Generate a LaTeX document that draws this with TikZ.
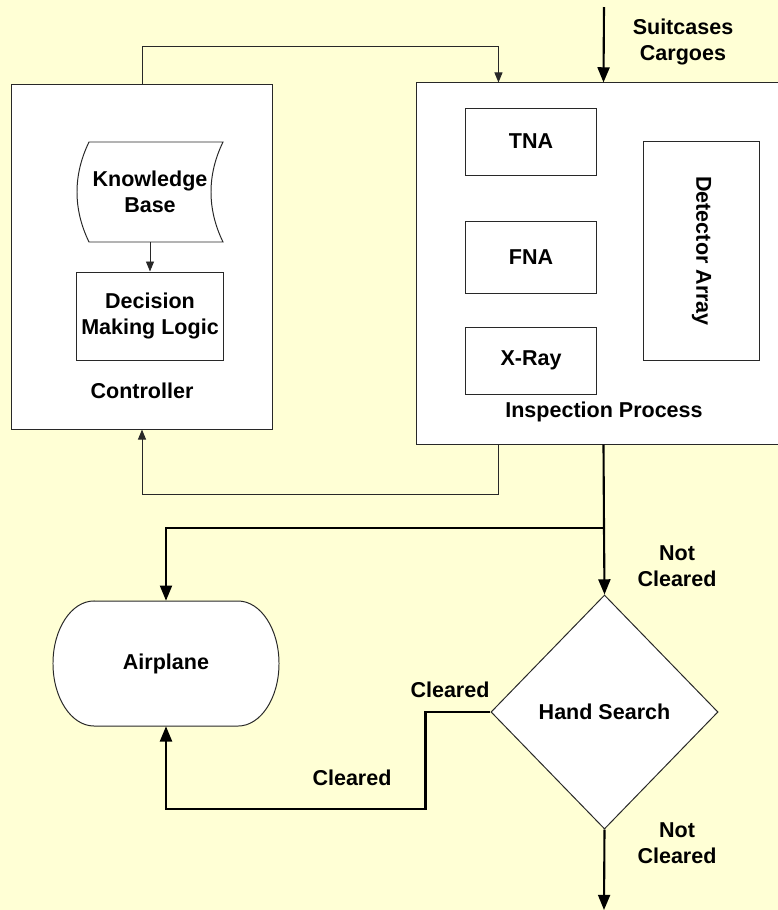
\documentclass[tikz,border=0pt]{standalone}
\usepackage{fontspec}
\setmainfont{Liberation Sans}
\usetikzlibrary{shapes.geometric, arrows.meta}
\definecolor{paper}{RGB}{255,255,213}
\definecolor{edge}{RGB}{40,40,40}
\tikzstyle{block} = [rectangle, draw=edge, line width=0.7pt, fill=white, inner sep=0pt, align=center]
\tikzstyle{decision} = [diamond, draw=edge, line width=0.7pt, fill=white, inner sep=0pt, minimum width=5.675cm, minimum height=5.85cm]
\tikzstyle{note} = [align=center, inner sep=0pt]
\tikzstyle{thinarrow} = [draw=edge, line width=0.7pt, -{Triangle[length=0.25cm, width=0.2cm]}]
\tikzstyle{thickline} = [line width=1.5pt]
\tikzstyle{thickarrow} = [line width=1.5pt, -{Triangle[length=0.38cm, width=0.3cm]}]

\begin{document}
\begin{tikzpicture}[x=0.025cm, y=-0.025cm, font=\fontsize{15.3}{18.5}\selectfont\bfseries]
    \clip (0,0) rectangle (778,910);
    \fill[paper] (0,0) rectangle (778,910);

    \node (ctrl) [block, minimum width=6.5cm, minimum height=8.6cm] at (142,257) {};
    \filldraw[fill=white, draw=edge, line width=0.7pt] (89,142) -- (223,142) .. controls (207,175) and (207,209) .. (223,242) -- (89,242) .. controls (73,209) and (73,175) .. (89,142) -- cycle;
    \node (kb) [note, minimum width=3.65cm, minimum height=2.5cm] at (150,192) {Knowledge\\Base};
    \node (dml) [block, minimum width=3.65cm, minimum height=2.2cm] at (150,316) {Decision\\Making Logic};
    \node (ctrltext) [note] at (142,391) {Controller};

    \node (insp) [block, minimum width=9.325cm, minimum height=9.025cm] at (603.5,263.5) {};
    \node (tna) [block, minimum width=3.25cm, minimum height=1.675cm] at (531,141.5) {TNA};
    \node (fna) [block, minimum width=3.25cm, minimum height=1.8cm] at (531,257) {FNA};
    \node (xray) [block, minimum width=3.25cm, minimum height=1.675cm] at (531,360.5) {X-Ray};
    \node (det) [block, rotate=-90, minimum width=5.45cm, minimum height=2.875cm] at (701.5,251) {Detector Array};
    \node (insptext) [note] at (604,412) {Inspection Process};

    \coordinate (in) at (604,7);
    \node (load) [note] at (683,42) {Suitcases\\Cargoes};

    \coordinate (split) at (604,528);
    \filldraw[fill=white, draw=edge, line width=0.7pt] (94,601) -- (238,601) arc[start angle=90, end angle=-90, x radius=1.025cm, y radius=1.5625cm] -- (94,726) arc[start angle=270, end angle=90, x radius=1.025cm, y radius=1.5625cm] -- cycle;
    \node (plane) [note, minimum width=5.65cm, minimum height=3.125cm] at (166,663.5) {Airplane};
    \node (hand) [decision] at (604.5,712) {Hand Search};
    \coordinate (out) at (604,910);

    \node (nc1) [note] at (677,566.5) {Not\\Cleared};
    \node (nc2) [note] at (677,843.5) {Not\\Cleared};
    \node (cl1) [note] at (450,690) {Cleared};
    \node (cl2) [note] at (352,778) {Cleared};

    \draw [thinarrow] (kb) -- (dml);
    \draw [thinarrow] (ctrl.north) -- ++(0,-38) -| ([xshift=-2.625cm]insp.north);
    \draw [thinarrow] ([xshift=-2.625cm]insp.south) -- ++(0,50) -| (ctrl.south);
    \draw [thickarrow] (in) -- (insp.north);
    \draw [thickline] (insp.south) -- (split);
    \draw [thickarrow] (split) -| (plane.north);
    \draw [thickarrow] (split) -- (hand.north);
    \draw [thickarrow] (hand.west) -- ++(-65,0) -- ++(0,97) -| (plane.south);
    \draw [thickarrow] (hand.south) -- (out);
\end{tikzpicture}
\end{document}
